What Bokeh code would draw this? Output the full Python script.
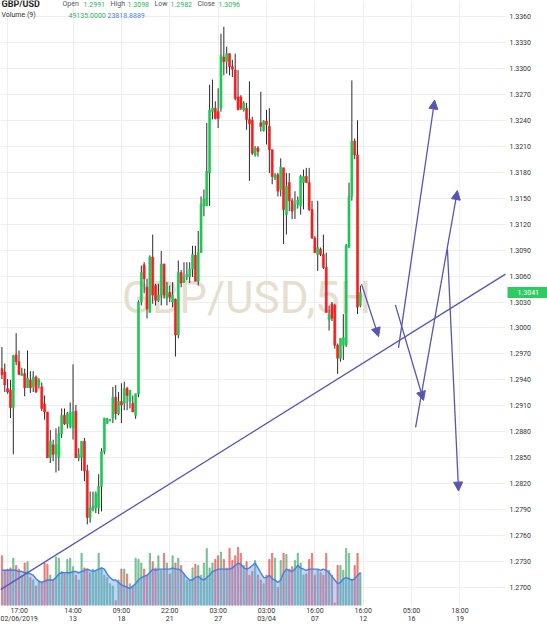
from bokeh.plotting import figure
from bokeh.models import (Range1d, FixedTicker, Label, Arrow, NormalHead, ColumnDataSource,
                          PrintfTickFormatter, BoxAnnotation)
from bokeh.embed import file_html
from bokeh.resources import INLINE

# ---------------- data ----------------
opens = [1.2953,1.2949,1.2930,1.2928,1.2908,1.2969,1.2961,1.2945,1.2947,1.2931,
         1.2940,1.2932,1.2943,1.2934,1.2932,1.2912,1.2903,1.2850,1.2865,1.2854,
         1.2850,1.2878,1.2899,1.2889,1.2886,1.2884,1.2904,1.2850,1.2850,1.2869,
         1.2835,1.2781,1.2790,1.2792,1.2792,1.2817,1.2857,1.2890,1.2893,1.2896,
         1.2920,1.2901,1.2915,1.2913,1.2930,1.2915,1.2913,1.2899,1.2924,1.3030,
         1.3073,1.3047,1.3018,1.3082,1.3049,1.3032,1.3038,1.3074,1.3034,1.3041,
         1.3030,1.3033,1.2992,1.3064,1.3053,1.3059,1.3059,1.3068,1.3084,1.3054,
         1.3087,1.3141,1.3141,1.3179,1.3250,1.3254,1.3250,1.3254,1.3313,1.3308,
         1.3317,1.3302,1.3298,1.3267,1.3267,1.3252,1.3254,1.3241,1.3240,1.3200,
         1.3208,1.3237,1.3228,1.3239,1.3233,1.3206,1.3173,1.3177,1.3160,1.3185,
         1.3131,1.3168,1.3147,1.3137,1.3143,1.3141,1.3168,1.3175,1.3168,1.3137,
         1.3104,1.3085,1.3091,1.3085,1.3070,1.3009,1.3028,1.3026,1.2980,1.2965,
         1.2980,1.2980,1.3093,1.3152,1.3216,1.3200,1.3026]
highs = [1.2978,1.2959,1.2941,1.2940,1.2969,1.2994,1.2974,1.2954,1.2953,1.2974,
         1.2950,1.2950,1.2945,1.2942,1.2937,1.2922,1.2903,1.2882,1.2871,1.2884,
         1.2886,1.2907,1.2907,1.2903,1.2914,1.2958,1.2911,1.2861,1.2869,1.2873,
         1.2842,1.2811,1.2811,1.2811,1.2831,1.2861,1.2896,1.2896,1.2895,1.2932,
         1.2934,1.2926,1.2936,1.2938,1.2932,1.2928,1.2922,1.2924,1.3032,1.3072,
         1.3076,1.3057,1.3084,1.3108,1.3051,1.3051,1.3089,1.3074,1.3053,1.3049,
         1.3053,1.3034,1.3078,1.3067,1.3076,1.3076,1.3076,1.3095,1.3095,1.3112,
         1.3152,1.3160,1.3237,1.3281,1.3287,1.3262,1.3277,1.3340,1.3348,1.3325,
         1.3317,1.3310,1.3317,1.3298,1.3269,1.3262,1.3260,1.3285,1.3244,1.3210,
         1.3210,1.3273,1.3240,1.3252,1.3254,1.3206,1.3179,1.3179,1.3196,1.3185,
         1.3179,1.3179,1.3150,1.3158,1.3152,1.3177,1.3183,1.3185,1.3185,1.3147,
         1.3106,1.3147,1.3093,1.3108,1.3087,1.3026,1.3030,1.3028,1.2982,1.2988,
         1.3016,1.3097,1.3168,1.3286,1.3219,1.3240,1.3049]
lows = [1.2941,1.2926,1.2924,1.2896,1.2854,1.2957,1.2946,1.2945,1.2921,1.2931,
        1.2925,1.2926,1.2925,1.2930,1.2904,1.2894,1.2850,1.2844,1.2846,1.2833,
        1.2835,1.2873,1.2888,1.2884,1.2884,1.2871,1.2850,1.2846,1.2835,1.2823,
        1.2773,1.2775,1.2788,1.2786,1.2785,1.2788,1.2854,1.2889,1.2892,1.2890,
        1.2894,1.2899,1.2890,1.2905,1.2905,1.2907,1.2903,1.2895,1.2920,1.3026,
        1.3040,1.3011,1.3018,1.3028,1.3026,1.3030,1.3026,1.3034,1.3026,1.3030,
        1.3024,1.2967,1.2988,1.3047,1.3052,1.3055,1.3052,1.3059,1.3054,1.3049,
        1.3087,1.3129,1.3141,1.3141,1.3241,1.3241,1.3231,1.3250,1.3292,1.3294,
        1.3292,1.3290,1.3263,1.3252,1.3252,1.3250,1.3229,1.3170,1.3200,1.3198,
        1.3198,1.3227,1.3227,1.3212,1.3179,1.3166,1.3171,1.3152,1.3152,1.3097,
        1.3108,1.3135,1.3126,1.3126,1.3138,1.3131,1.3137,1.3168,1.3135,1.3103,
        1.3087,1.3066,1.3083,1.3068,1.3018,1.2997,1.3008,1.2976,1.2947,1.2961,
        1.2963,1.2978,1.3093,1.3147,1.3195,1.3016,1.3024]
closes = [1.2946,1.2934,1.2926,1.2908,1.2968,1.2961,1.2946,1.2948,1.2931,1.2942,
          1.2931,1.2943,1.2926,1.2940,1.2907,1.2903,1.2850,1.2869,1.2854,1.2865,
          1.2878,1.2899,1.2889,1.2901,1.2903,1.2903,1.2850,1.2854,1.2869,1.2835,
          1.2781,1.2792,1.2794,1.2809,1.2817,1.2857,1.2896,1.2895,1.2894,1.2920,
          1.2901,1.2915,1.2911,1.2930,1.2922,1.2928,1.2903,1.2924,1.3030,1.3064,
          1.3057,1.3022,1.3082,1.3038,1.3032,1.3038,1.3074,1.3038,1.3049,1.3036,
          1.3038,1.2992,1.3064,1.3052,1.3059,1.3062,1.3068,1.3085,1.3054,1.3087,
          1.3143,1.3149,1.3181,1.3252,1.3254,1.3242,1.3242,1.3315,1.3308,1.3317,
          1.3302,1.3299,1.3265,1.3252,1.3254,1.3260,1.3241,1.3236,1.3202,1.3208,
          1.3204,1.3233,1.3239,1.3235,1.3206,1.3175,1.3177,1.3158,1.3186,1.3137,
          1.3164,1.3147,1.3135,1.3143,1.3148,1.3175,1.3175,1.3168,1.3137,1.3104,
          1.3087,1.3093,1.3085,1.3070,1.3018,1.3016,1.3011,1.2980,1.2965,1.2988,
          1.2989,1.3095,1.3152,1.3216,1.3200,1.3024,1.3041]
# volume in thousands
volume = [41,29,30,31,39,33,30,25,35,36,
          23,21,16,20,19,35,34,25,21,40,
          39,28,26,38,39,32,25,21,43,31,
          30,27,30,28,43,31,25,23,18,16,
          4,21,30,30,26,18,16,39,38,35,
          30,25,43,36,31,41,29,43,35,26,
          41,35,39,33,25,21,21,31,34,33,
          25,35,47,31,35,38,41,44,38,31,
          47,37,41,48,43,33,36,25,28,37,
          25,21,18,25,38,43,39,15,37,43,
          42,30,32,37,43,35,25,26,38,43,
          25,29,27,25,43,29,25,2,33,33,
          29,47,43,21,33,43,27]
vol_ma = [29,29,29,29,29,29,28,28,27,27,
          26,25,22,20,19,20,21,21,21,23,
          26,27,27,27,27,28,28,27,28,29,
          30,29,28,29,30,31,30,26,23,21,
          21,19,17,16,15,14,16,18,21,23,
          24,25,27,30,29,30,30,30,30,30,
          31,30,30,29,26,23,21,21,23,24,
          22,21,23,25,28,29,30,30,30,30,
          30,31,33,35,34,31,30,31,33,35,
          31,27,23,23,25,22,21,19,21,27,
          30,29,28,30,33,31,30,29,30,30,
          30,30,29,30,29,27,24,21,18,19,
          22,23,22,21,22,25,27]

x_tick_pos = [2, 25, 42, 59, 76, 93, 110, 127, 144, 161]
x_tick_labels = ["17:00\n02/06/2019", "14:00\n13", "09:00\n18", "22:00\n21", "03:00\n27",
                 "03:00\n03/04", "16:00\n07", "16:00\n12", "05:00\n16", "18:00\n19"]
y_ticks = [1.2700, 1.2730, 1.2760, 1.2790, 1.2820, 1.2850, 1.2880, 1.2910, 1.2940, 1.2970,
           1.3000, 1.3030, 1.3060, 1.3090, 1.3120, 1.3150, 1.3180, 1.3210, 1.3240, 1.3270,
           1.3300, 1.3330, 1.3360]

# drawings (bar-index, price)
trend_x = [-0.5, 177.0]
trend_y = [1.26977, 1.30622]
arrows = [  # x_start, y_start, x_end, y_end
    (126.4, 1.30507, 132.4, 1.29898),
    (138.3, 1.30267, 148.2, 1.29162),
    (139.4, 1.29771, 152.1, 1.32634),
    (145.4, 1.28851, 160.1, 1.31588),
    (156.6, 1.30909, 160.5, 1.28115),
]
last_price = 1.3041

# ---------------- figure ----------------
GREEN = "#21c655"
RED = "#f2201e"
DRAW = "#5757b3"
X_END = 177.0          # right edge of the chart area (price scale sits to its right)

p = figure(width=547, height=625, output_backend="svg", toolbar_location=None,
           x_range=Range1d(-0.5, 191.77), y_range=Range1d(1.26793, 1.33784),
           y_axis_location="right", min_border_left=0, min_border_top=0,
           min_border_right=0, min_border_bottom=17, background_fill_color="white",
           border_fill_color="white")
p.outline_line_color = None
p.extra_y_ranges = {"vol": Range1d(0, 498.6)}

idx = list(range(len(opens)))
up = [c >= o for o, c in zip(opens, closes)]
src = ColumnDataSource(dict(
    x=idx, o=opens, h=highs, l=lows, c=closes,
    top=[max(o, c) for o, c in zip(opens, closes)],
    bot=[min(o, c) for o, c in zip(opens, closes)],
    col=[GREEN if u else RED for u in up],
    vcol=["#3fa86a" if u else "#e5463f" for u in up],
    vol=volume, ma=vol_ma,
))

# price-scale background (hides grid lines right of the chart area)
p.add_layout(BoxAnnotation(left=X_END, fill_color="white", fill_alpha=1.0, line_color=None,
                           level="underlay"))

# volume
p.vbar(x="x", top="vol", bottom=0, width=0.45, color="vcol", alpha=0.55, y_range_name="vol", source=src)
p.varea(x="x", y1=0, y2="ma", fill_color="#6e9ff0", fill_alpha=0.45, y_range_name="vol", source=src)
p.line(x="x", y="ma", line_color="#3f7fe6", line_width=1.4, y_range_name="vol", source=src)

# candles
p.segment(x0="x", x1="x", y0="l", y1="h", line_color="#2b2b2b", line_width=1, source=src)
p.vbar(x="x", top="top", bottom="bot", width=0.72, fill_color="col", line_color="col",
       line_width=0.6, source=src)

# trend line and arrows
p.line(trend_x, trend_y, line_color=DRAW, line_width=1.3)
for xs, ys, xe, ye in arrows:
    p.add_layout(Arrow(x_start=xs, y_start=ys, x_end=xe, y_end=ye, line_color=DRAW, line_width=1.3,
                       end=NormalHead(size=9, fill_color=DRAW, line_color=DRAW)))

# axes
p.xaxis.ticker = FixedTicker(ticks=x_tick_pos)
p.xaxis.major_label_overrides = {t: s for t, s in zip(x_tick_pos, x_tick_labels)}
p.yaxis.ticker = FixedTicker(ticks=y_ticks)
p.yaxis.formatter = PrintfTickFormatter(format="%.4f")
p.yaxis.fixed_location = X_END
for ax in (p.xaxis, p.yaxis):
    ax.axis_line_color = None
    ax.major_tick_line_color = None
    ax.minor_tick_line_color = None
    ax.major_tick_out = 0
    ax.major_tick_in = 0
    ax.major_label_text_font = "Roboto"
    ax.major_label_text_font_size = "7px"
    ax.major_label_text_color = "#333333"
p.xaxis.major_label_standoff = 1
p.xaxis.major_label_text_line_height = 1.0
p.yaxis.major_label_standoff = 4
p.xgrid.ticker = FixedTicker(ticks=x_tick_pos)
p.ygrid.ticker = FixedTicker(ticks=y_ticks)
p.xgrid.grid_line_color = "#eeeeee"
p.ygrid.grid_line_color = "#eeeeee"

# watermark
p.add_layout(Label(x=246, y=308, x_units="screen", y_units="screen", text="GBP/USD,5H",
                   text_align="center", text_baseline="middle", text_font="Roboto",
                   text_font_size="44px", text_color="#e6dfd0", level="underlay"))

# last price marker on the price scale
p.add_layout(Label(x=X_END, y=last_price, x_units="data", y_units="data", text="%.4f" % last_price,
                   x_offset=2, text_align="left", text_baseline="middle", text_font="Roboto",
                   text_font_size="7px", text_color="white", background_fill_color="#2ecc60",
                   padding=(10, 3), level="overlay"))

# header legend
FH = 608
def hdr(x, y, text, color, size="7px", style="normal"):
    p.add_layout(Label(x=x, y=FH - y, x_units="screen", y_units="screen", text=text,
                       text_align="left", text_baseline="middle", text_font="Roboto",
                       text_font_size=size, text_color=color, text_font_style=style))

hdr(1, 6.5, "GBP/USD", "#222222", size="9px", style="bold")
hdr(62, 6.5, "Open", "#555555")
hdr(83, 6.5, "1.2991", "#2fb35a")
hdr(110, 6.5, "High", "#555555")
hdr(127, 6.5, "1.3098", "#2fb35a")
hdr(154, 6.5, "Low", "#555555")
hdr(170, 6.5, "1.2982", "#2fb35a")
hdr(197, 6.5, "Close", "#555555")
hdr(218, 6.5, "1.3096", "#2fb35a")
hdr(1, 17.5, "Volume (9)", "#333333")
hdr(68, 17.5, "49135.0000", "#2fb35a")
hdr(107, 17.5, "23818.8889", "#4a86e8")

open("out.html", "w").write(file_html(p, INLINE))
